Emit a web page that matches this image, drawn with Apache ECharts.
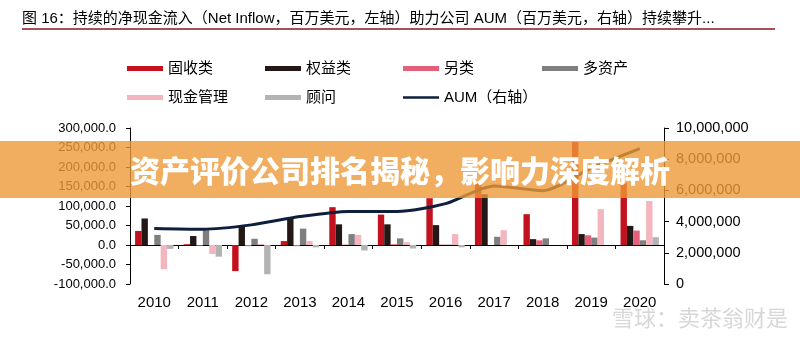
<!DOCTYPE html>
<html>
<head>
<meta charset="utf-8">
<script src="https://cdn.jsdelivr.net/npm/echarts@6/dist/echarts.min.js"></script>
<style>html,body{margin:0;padding:0;background:#fff;}#c{width:800px;height:341px;}</style>
</head>
<body>
<div id="c"></div>
<script>
var years = ['2010','2011','2012','2013','2014','2015','2016','2017','2018','2019','2020'];
var fixedIncome = [36000, 2000, -67000, 10000, 97000, 78000, 120000, 158000, 79000, 264000, 158000];
var equity      = [68000, 23000, 47000, 67000, 53000, 53000, 51000, 130000, 15000, 28000, 49000];
var alternatives= [0, -2000, -3000, -3000, 1000, 2000, 1000, 0, 12000, 25000, 37000];
var multiAsset  = [26000, 38000, 16000, 42000, 28000, 17000, 1000, 21000, 17000, 19000, 12000];
var cashMgmt    = [-62000, -23000, 3000, 10000, 26000, 7000, 28000, 38000, 0, 92000, 113000];
var advisory    = [-10000, -30000, -75000, -6000, -14000, -9000, -6000, 0, 0, 0, 20000];
var aum         = [3560000, 3510000, 3790000, 4320000, 4650000, 4650000, 5150000, 6290000, 5980000, 7430000, 8680000];

var names = ['固收类','权益类','另类','多资产','现金管理','顾问','AUM（右轴）'];
var colors = ['#c3111d','#231815','#e2607a','#7f7f7f','#f4b6be','#b3b3b3','#0d1f3c'];
var barData = [fixedIncome, equity, alternatives, multiAsset, cashMgmt, advisory];

var FONT = '"Liberation Sans","Noto Sans CJK SC",sans-serif';

var chart = echarts.init(document.getElementById('c'), null, {renderer:'canvas'});

var legendPos = [[127,61],[265,61],[403,61],[542,61],[127,90],[265,90],[403,90]];
var legends = names.map(function(n,i){
  return {
    left: legendPos[i][0], top: legendPos[i][1], padding: 0, selectedMode: false,
    itemWidth: 36, itemHeight: i===6 ? 2.5 : 5, itemGap: 0,
    textStyle: {fontSize: 15, color: '#000', fontFamily: FONT},
    data: [{name: n, icon: 'rect', itemStyle: {color: colors[i]}}]
  };
});

var series = barData.map(function(d,i){
  return {
    name: names[i], type: 'bar', data: d, yAxisIndex: 0, xAxisIndex: 0,
    barGap: '0%', barCategoryGap: '21%',
    itemStyle: {color: colors[i]}
  };
});
series.push({
  name: names[6], type: 'line', data: aum, yAxisIndex: 1, xAxisIndex: 0,
  symbol: 'none', smooth: 0.25, z: 5,
  lineStyle: {color: colors[6], width: 3}
});

function fmt1(v){ return v.toLocaleString('en-US',{minimumFractionDigits:1,maximumFractionDigits:1}); }
function fmt0(v){ return v.toLocaleString('en-US'); }

chart.setOption({
  animation: false,
  backgroundColor: '#fff',
  grid: {left: 130, right: 136, top: 128, bottom: 57, containLabel: false, outerBoundsMode: 'none'},
  legend: legends,
  xAxis: [{
    type: 'category', data: years, position: 'bottom',
    axisLine: {onZero: true, onZeroAxisIndex: 0, lineStyle: {color: '#000', width: 1}},
    axisTick: {show: true, length: 4, lineStyle: {color: '#000'}},
    axisLabel: {show: false},
    splitLine: {show: false}
  },{
    type: 'category', data: years, position: 'bottom',
    axisLine: {show: false, onZero: false},
    axisTick: {show: false},
    axisLabel: {margin: 11, fontSize: 15, color: '#000', fontFamily: FONT},
    splitLine: {show: false}
  }],
  yAxis: [{
    type: 'value', min: -100000, max: 300000, interval: 50000, position: 'left',
    axisLine: {show: true, lineStyle: {color: '#000'}},
    axisTick: {show: true, length: 4, lineStyle: {color: '#000'}},
    axisLabel: {formatter: fmt1, fontSize: 13, color: '#000', margin: 14, fontFamily: FONT},
    splitLine: {show: false}
  },{
    type: 'value', min: 0, max: 10000000, interval: 2000000, position: 'right',
    axisLine: {show: true, lineStyle: {color: '#000'}},
    axisTick: {show: true, length: 5, lineStyle: {color: '#000'}},
    axisLabel: {formatter: fmt0, fontSize: 14.5, color: '#000', margin: 12, fontFamily: FONT},
    splitLine: {show: false}
  }],
  series: series,
  graphic: [
    {type: 'text', x: 22, y: 19, z: 10,
     style: {text: '图 16：持续的净现金流入（Net Inflow，百万美元，左轴）助力公司 AUM（百万美元，右轴）持续攀升...',
             font: '15px ' + FONT, fill: '#000', verticalAlign: 'middle', textVerticalAlign: 'middle'}},
    {type: 'line', z: 10, shape: {x1: 22, y1: 29, x2: 775, y2: 29}, style: {stroke: '#8b1a1a', lineWidth: 1.5}},
    {type: 'rect', z: 100, shape: {x: 0, y: 141, width: 800, height: 57}, style: {fill: 'rgba(238,154,56,0.8)'}},
    {type: 'text', x: 400, y: 171, z: 101,
     style: {text: '资产评价公司排名揭秘，影响力深度解析', font: '900 30px "Noto Sans CJK SC",sans-serif',
             fill: '#fff', align: 'center', verticalAlign: 'middle', textAlign: 'center', textVerticalAlign: 'middle'}},
    {type: 'text', x: 612, y: 318, z: 101,
     style: {text: '雪球：卖茶翁财是', font: '22px "Noto Sans CJK SC",sans-serif',
             fill: 'rgba(140,140,140,0.35)', verticalAlign: 'middle', textVerticalAlign: 'middle'}}
  ]
});
</script>
</body>
</html>
